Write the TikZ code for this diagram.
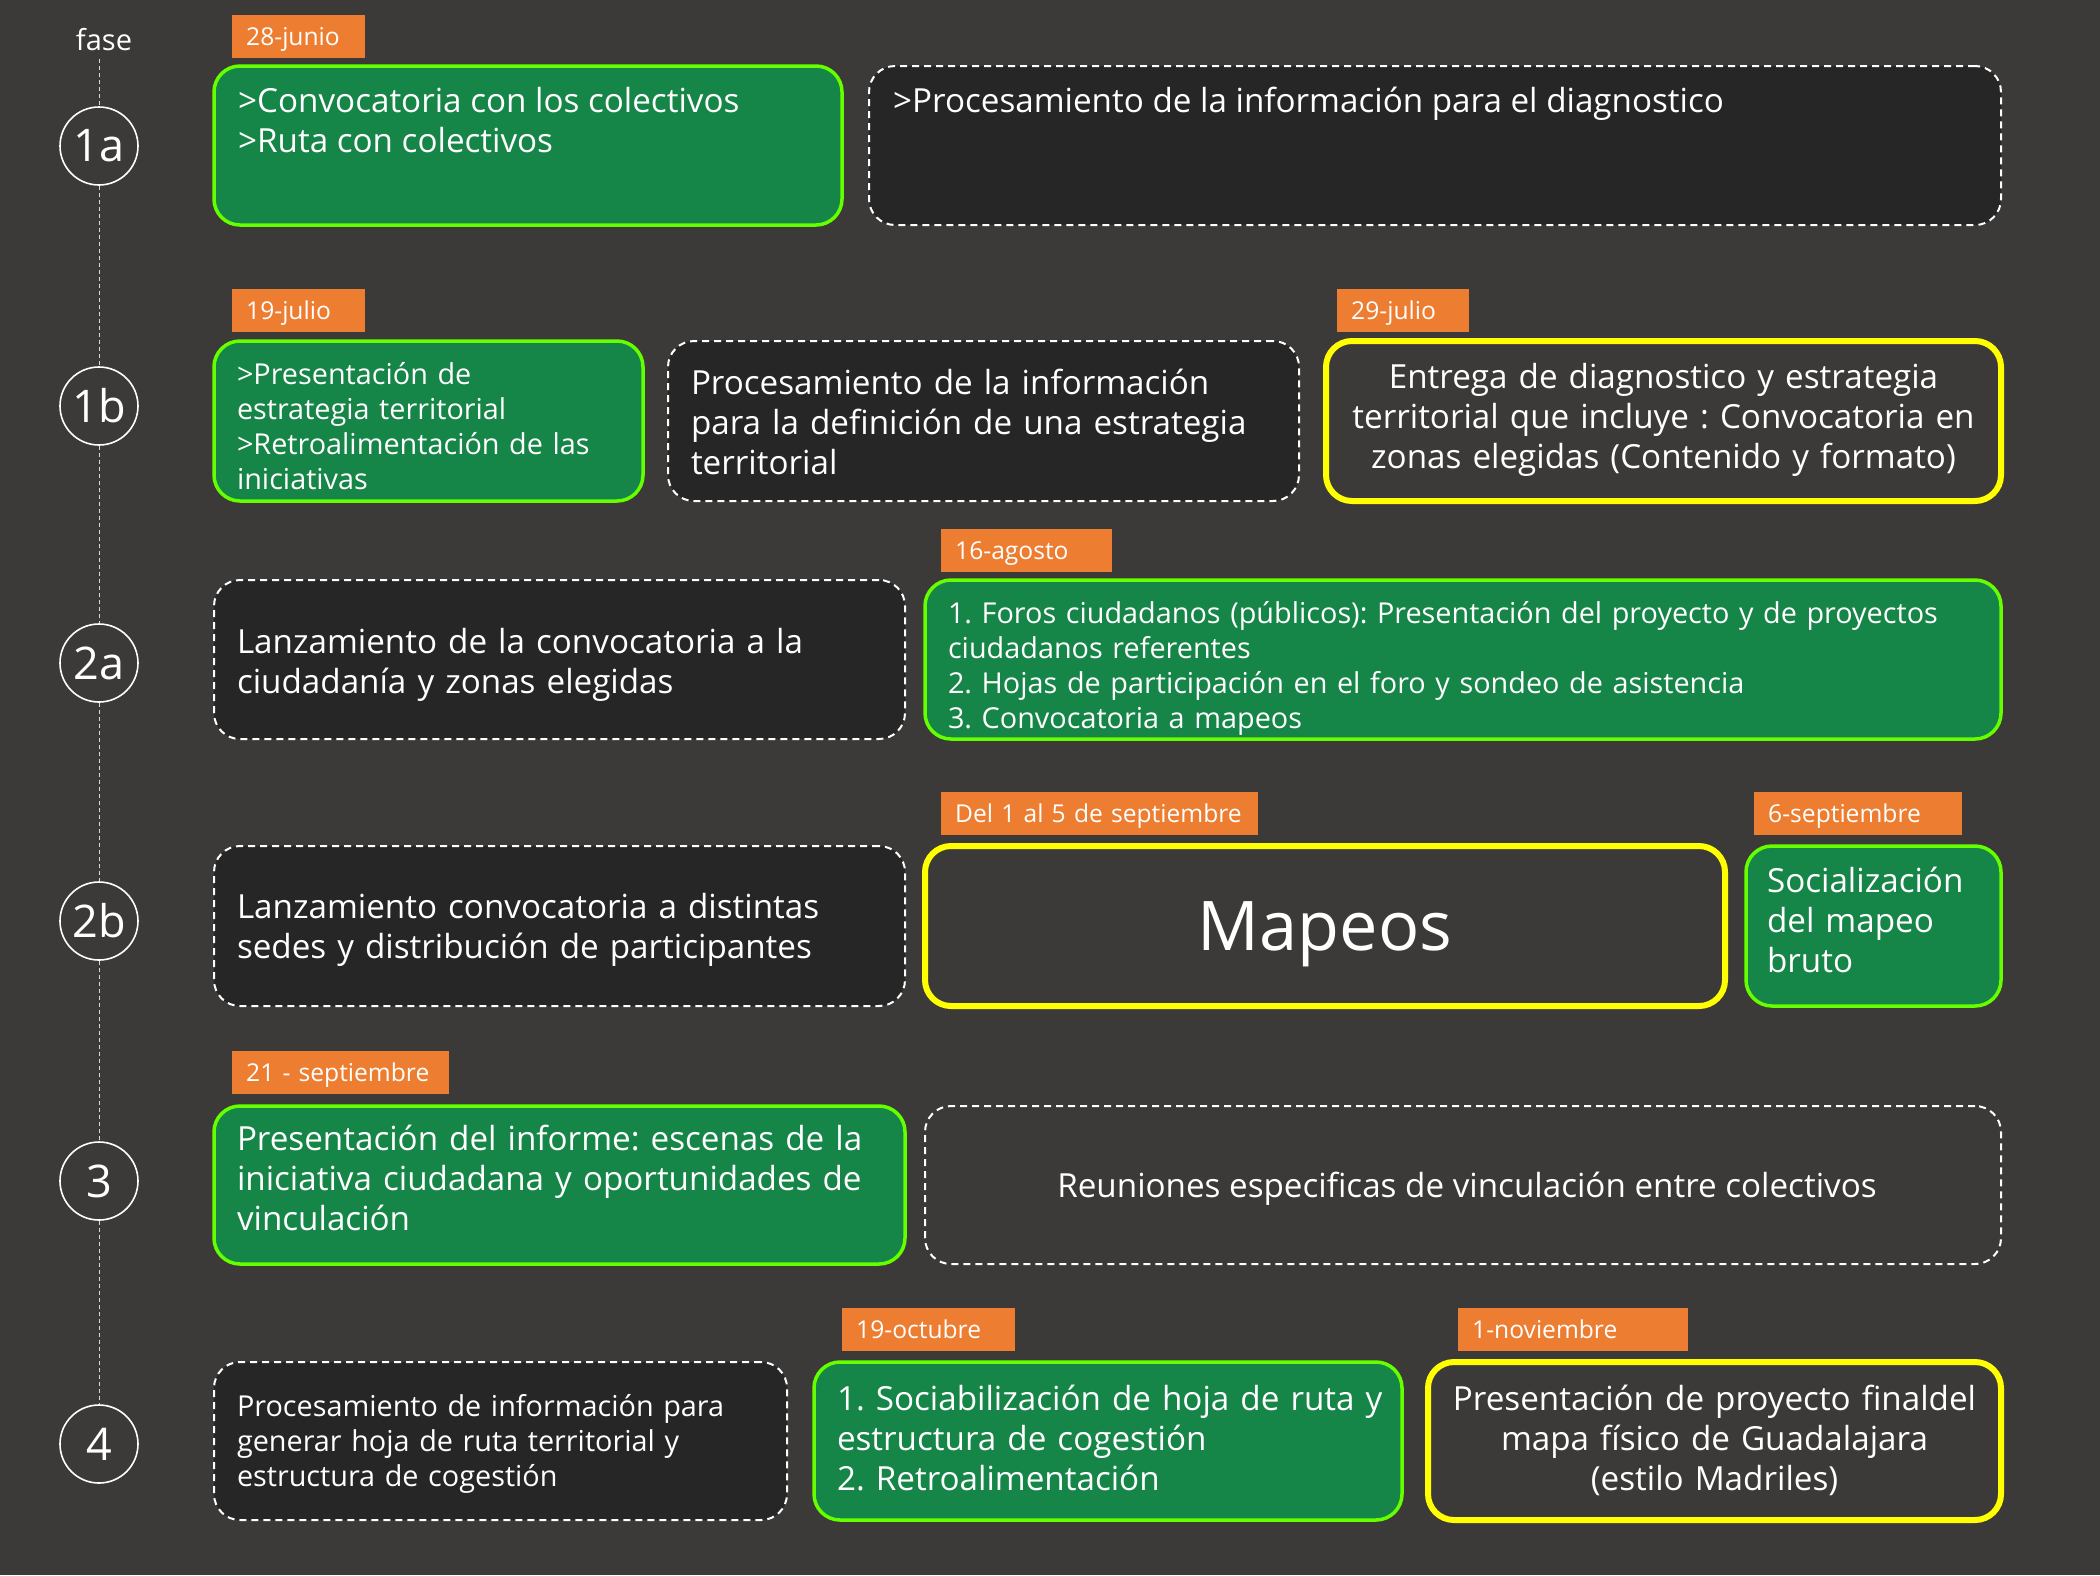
\documentclass[tikz,border=0pt]{standalone}
\usepackage{fontspec}
\setmainfont{Open Sans}
\definecolor{bg}{HTML}{3C3A38}
\definecolor{boxdark}{HTML}{262626}
\definecolor{boxgreen}{HTML}{168548}
\definecolor{limeb}{HTML}{66FF00}
\definecolor{yel}{HTML}{FFFF00}
\definecolor{orng}{HTML}{ED7D31}
\newcommand\mainsz{\fontsize{33.2}{40}\selectfont}
\newcommand\smallsz{\fontsize{28.8}{35}\selectfont}
\newcommand\lblsz{\fontsize{24.6}{28}\selectfont}
\begin{document}
\frenchspacing
\begin{tikzpicture}[x=1pt,y=-1pt,
  base/.style={rounded corners=26pt, inner sep=0pt},
  gbox/.style={base, fill=boxgreen, draw=limeb, line width=3.5pt},
  dbox/.style={base, fill=boxdark, draw=white, line width=2pt, dash pattern=on 7pt off 5pt},
  obox/.style={base, draw=white, line width=2pt, dash pattern=on 7pt off 5pt},
  ybox/.style={base, fill=bg, draw=yel, line width=6pt},
  lbl/.style={fill=orng, text=white, font=\lblsz, inner xsep=14pt, inner ysep=0pt, align=left, anchor=north west, minimum height=43pt, text height=21pt, text depth=4pt},
  phase/.style={circle, draw=white, line width=1.6pt, minimum size=78pt, inner sep=0pt, text=white, font=\fontsize{45}{48}\selectfont},
  tline/.style={draw=white!80!bg, line width=0.9pt, dash pattern=on 4pt off 3pt},
  txt/.style={text=white, inner sep=0pt, align=left, font=\mainsz},
  ctxt/.style={txt, align=center},
  stxt/.style={txt, font=\smallsz}
]
\useasboundingbox (0,0) rectangle (2100,1575);
\fill[bg] (0,0) rectangle (2100,1575);

% timeline
\node[text=white, font=\fontsize{29}{32}\selectfont, inner sep=0pt] (fase) at (104,40) {fase};
\node[phase] (c1a) at (99,146) {1a};
\node[phase] (c1b) at (99,406) {1b};
\node[phase] (c2a) at (99,663) {2a};
\node[phase] (c2b) at (99,921) {2b};
\node[phase] (c3) at (99,1181) {3};
\node[phase] (c4) at (99,1444) {4};
\coordinate (ftop) at (99,59);
\draw[tline] (ftop) -- (c1a.north);
\draw[tline] (c1a.south) -- (c1b.north);
\draw[tline] (c1b.south) -- (c2a.north);
\draw[tline] (c2a.south) -- (c2b.north);
\draw[tline] (c2b.south) -- (c3.north);
\draw[tline] (c3.south) -- (c4.north);

% row 1a
\node[lbl, text width=105pt] (l1a) at (232,15) {\mbox{28-junio}};
\node[gbox, minimum width=628pt, minimum height=159pt] (g1a) at (528,145.5) {};
\node[txt, anchor=north west] (tg1a) at (238,87) {>Convocatoria con los colectivos\\>Ruta con colectivos};
\node[dbox, minimum width=1132pt, minimum height=159pt] (d1a) at (1435,145.5) {};
\node[txt, anchor=north west] (td1a) at (893,87) {>Procesamiento de la información para el diagnostico};

% row 1b
\node[lbl, text width=105pt] (l1b) at (232,289) {\mbox{19-julio}};
\node[gbox, minimum width=429pt, minimum height=160pt] (g1b) at (428.5,421) {};
\node[stxt, text width=383pt] (tg1b) at (428.5,426) {>Presentación de\\estrategia territorial\\>Retroalimentación de las\\iniciativas};
\node[dbox, minimum width=631pt, minimum height=160pt] (d1b) at (983.5,421) {};
\node[txt, text width=585pt] (td1b) at (983.5,422) {Procesamiento de la información\\para la definición de una estrategia\\territorial};
\node[lbl, text width=104pt] (l1bb) at (1337,289) {\mbox{29-julio}};
\node[ybox, minimum width=675pt, minimum height=160pt] (y1b) at (1663.5,421) {};
\node[ctxt, text width=629pt] (ty1b) at (1663.5,420) {Entrega de diagnostico y estrategia\\territorial que incluye : Convocatoria en\\zonas elegidas (Contenido y formato)};

% row 2a
\node[dbox, minimum width=691pt, minimum height=159pt] (d2a) at (559.5,659.5) {};
\node[txt, text width=645pt] (td2a) at (559.5,664.5) {Lanzamiento de la convocatoria a la\\ciudadanía y zonas elegidas};
\node[lbl, text width=143pt] (l2a) at (941,529) {\mbox{16-agosto}};
\node[gbox, minimum width=1076pt, minimum height=159pt] (g2a) at (1463,659.5) {};
\node[stxt, text width=1030pt] (tg2a) at (1463,668.5) {1. Foros ciudadanos (públicos): Presentación del proyecto y de proyectos\\ciudadanos referentes\\2. Hojas de participación en el foro y sondeo de asistencia\\3. Convocatoria a mapeos};

% row 2b
\node[dbox, minimum width=691pt, minimum height=160pt] (d2b) at (559.5,926) {};
\node[txt, text width=645pt] (td2b) at (559.5,930) {Lanzamiento convocatoria a distintas\\sedes y distribución de participantes};
\node[lbl, text width=289pt] (l2b) at (941,792) {\mbox{Del 1 al 5 de septiembre}};
\node[ybox, minimum width=800pt, minimum height=160pt] (y2b) at (1325,926) {};
\node[ctxt, font=\fontsize{68.5}{74}\selectfont] (ty2b) at (1325,934) {Mapeos};
\node[lbl, text width=180pt] (l2bb) at (1754,792) {\mbox{6-septiembre}};
\node[gbox, minimum width=255pt, minimum height=160pt] (g2b) at (1873.5,926) {};
\node[txt, text width=213pt] (tg2b) at (1873.5,920) {Socialización\\del mapeo\\bruto};

% row 3
\node[lbl, text width=189pt] (l3) at (232,1051) {\mbox{21 - septiembre}};
\node[gbox, minimum width=691pt, minimum height=158pt] (g3) at (559.5,1185) {};
\node[txt, text width=645pt] (tg3) at (559.5,1178) {Presentación del informe: escenas de la\\iniciativa ciudadana y oportunidades de\\vinculación};
\node[obox, minimum width=1076pt, minimum height=158pt] (d3) at (1463,1185) {};
\node[ctxt] (td3) at (1467,1189) {Reuniones especificas de vinculación entre colectivos};

% row 4
\node[dbox, minimum width=573pt, minimum height=158pt] (d4) at (500.5,1441) {};
\node[stxt, text width=527pt] (td4) at (500.5,1444) {Procesamiento de información para\\generar hoja de ruta territorial y\\estructura de cogestión};
\node[lbl, text width=145pt] (l4) at (842,1308) {\mbox{19-octubre}};
\node[gbox, minimum width=588pt, minimum height=158pt] (g4) at (1108,1441) {};
\node[txt, text width=564pt] (tg4) at (1119,1438) {1. Sociabilización de hoja de ruta y\\estructura de cogestión\\2. Retroalimentación};
\node[lbl, text width=202pt] (l4b) at (1458,1308) {\mbox{1-noviembre}};
\node[ybox, minimum width=573pt, minimum height=158pt] (y4) at (1714.5,1441) {};
\node[ctxt, text width=527pt] (ty4) at (1714.5,1440) {Presentación de proyecto finaldel\\mapa físico de Guadalajara\\(estilo Madriles)};
\end{tikzpicture}
\end{document}
